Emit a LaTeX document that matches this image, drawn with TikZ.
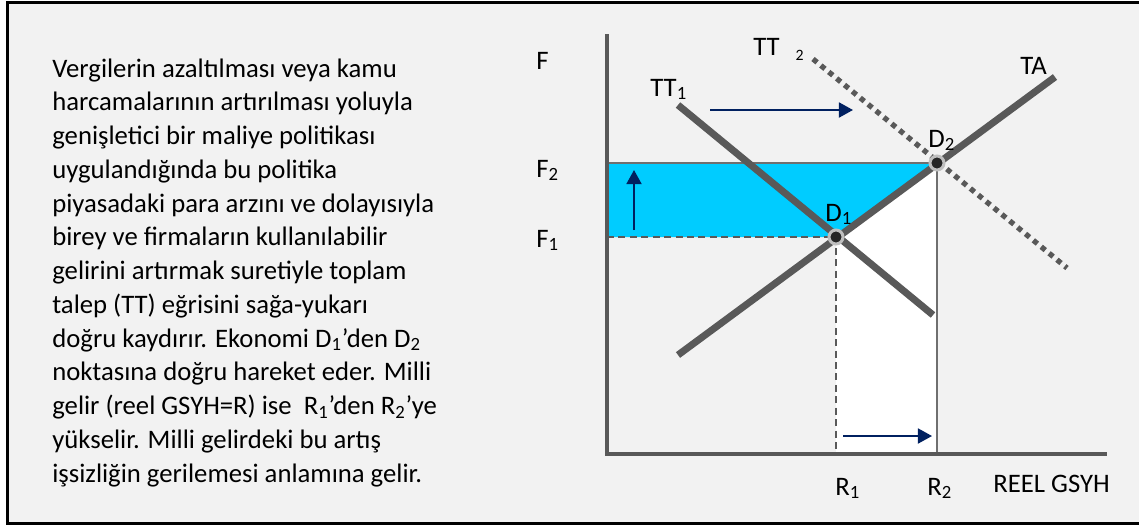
\documentclass[tikz,border=0pt]{standalone}
\usepackage{fontspec}
\setmainfont{Carlito}
\usetikzlibrary{arrows.meta}
\definecolor{panelgray}{HTML}{F2F2F2}
\definecolor{curvegray}{HTML}{595959}
\definecolor{linegray}{HTML}{6F6F6F}
\definecolor{bandblue}{HTML}{00CCFF}
\definecolor{shiftnavy}{HTML}{002060}
\newcommand{\lowidx}[1]{\textsubscript{#1}}
\begin{document}
\begin{tikzpicture}[x=0.02cm, y=-0.02cm, font=\fontsize{15.2}{19.2}\selectfont,
    lbl/.style={anchor=base west, inner sep=0pt},
    curve/.style={curvegray, line width=4pt},
    axisline/.style={curvegray, line width=2pt},
    guide/.style={linegray, line width=1.1pt},
    guidedash/.style={curvegray, line width=0.9pt, dash pattern=on 4pt off 2.5pt},
    shiftarrow/.style={shiftnavy, line width=1.2pt, -{Triangle[length=8pt, width=8.5pt]}},
    eqdot/.style={circle, fill=black!85, draw=black!25, line width=1.7pt, minimum size=0.28cm, inner sep=0pt}]
  \useasboundingbox (0,0) rectangle (1139,525);
  \fill[white] (0,0) rectangle (1139,525);
  \fill[panelgray] (7.5,2.5) rectangle (1139,523);
  \draw[black, line width=1.7pt] (1139,2.5) -- (7.5,2.5) -- (7.5,523) -- (1139,523);

  \node[lbl, align=left] (desc) at (52,482) {Vergilerin azaltılması veya kamu\\
    harcamalarının artırılması yoluyla\\
    genişletici bir maliye politikası\\
    uygulandığında bu politika\\
    piyasadaki para arzını ve dolayısıyla\\
    birey ve firmaların kullanılabilir\\
    gelirini artırmak suretiyle toplam\\
    talep (TT) eğrisini sağa-yukarı\\
    doğru kaydırır. Ekonomi D\lowidx{1}’den D\lowidx{2}\\
    noktasına doğru hareket eder. Milli\\
    gelir (reel GSYH=R) ise \ R\lowidx{1}’den R\lowidx{2}’ye\\
    yükselir. Milli gelirdeki bu artış\\
    işsizliğin gerilemesi anlamına gelir.};

  % equilibrium points and axes
  \coordinate (O) at (607,454);
  \coordinate (ytop) at (607,36);
  \coordinate (xend) at (1105,454);
  \coordinate (D1) at (836,237);
  \coordinate (D2) at (937,163);
  \coordinate (F2) at (607,163);
  \coordinate (F1) at (607,237);
  \coordinate (R1) at (836,454);
  \coordinate (R2) at (937,454);

  \fill[bandblue] (F2) -- (D2) -- (D1) -- (F1) -- cycle;
  \fill[white] (D1) -- (D2) -- (R2) -- (R1) -- cycle;
  \draw[guide] (F2) -- (D2) -- (R2);
  \draw[guidedash] (F1) -- (D1) -- (R1);
  \draw[axisline, line cap=rect] (ytop) -- (O) -- (xend);

  \coordinate (TAlo) at (678,355);
  \coordinate (TAhi) at (1055,77);
  \coordinate (TT1hi) at (678,105);
  \coordinate (TT1lo) at (933,315);
  \coordinate (TT2hi) at (813,59);
  \coordinate (TT2lo) at (1067,268);
  \draw[curve] (TAlo) -- (TAhi);
  \draw[curve] (TT1hi) -- (TT1lo);
  \draw[curvegray, line width=3pt, dash pattern=on 3pt off 2.8pt] (TT2hi) -- (TT2lo);

  \node[eqdot] (dotD1) at (D1) {};
  \node[eqdot] (dotD2) at (D2) {};

  \node[lbl] (labF) at (536,69) {F};
  \node[lbl] (labF2) at (536,177) {F\lowidx{2}};
  \node[lbl] (labF1) at (536,247) {F\lowidx{1}};
  \node[lbl] (labTT1) at (650,96) {TT\lowidx{1}};
  \node[lbl] (labTT2) at (753,55) {TT\hspace{9pt}\raisebox{-3pt}{\small 2}};
  \node[lbl] (labTA) at (1020,74) {TA};
  \node[lbl] (labD1) at (825,221) {D\lowidx{1}};
  \node[lbl] (labD2) at (928,147) {D\lowidx{2}};
  \node[lbl] (labR1) at (835,495) {R\lowidx{1}};
  \node[lbl] (labR2) at (927,495) {R\lowidx{2}};
  \node[lbl] (labX) at (993,492) {REEL GSYH};

  \coordinate (upA) at (634,230);
  \coordinate (upB) at (634,170);
  \coordinate (topA) at (710,110);
  \coordinate (topB) at (853,110);
  \coordinate (botA) at (843,436);
  \coordinate (botB) at (932,436);
  \draw[shiftarrow] (upA) -- (upB);
  \draw[shiftarrow] (topA) -- (topB);
  \draw[shiftarrow] (botA) -- (botB);
\end{tikzpicture}
\end{document}
